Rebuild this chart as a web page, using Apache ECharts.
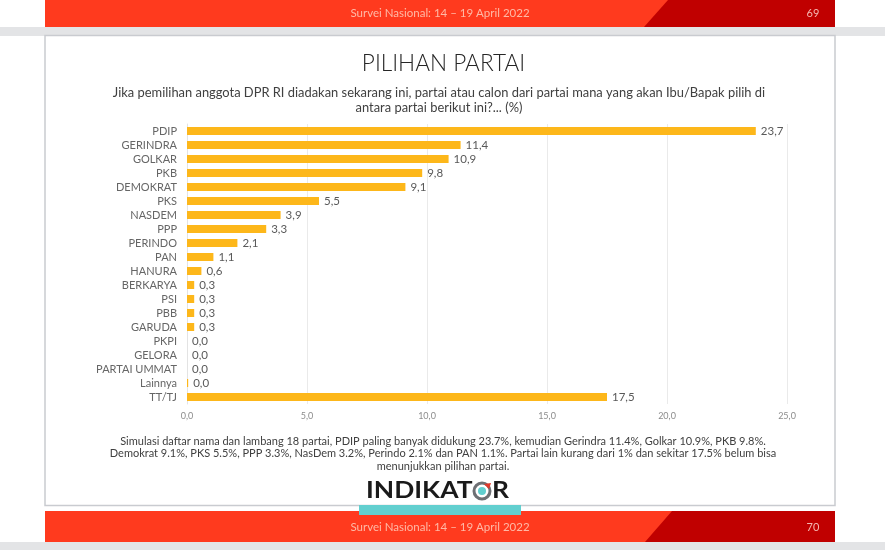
<!DOCTYPE html>
<html><head><meta charset="utf-8">
<style>html,body{margin:0;padding:0;background:#fff}#c{width:885px;height:550px}</style>
<script src="https://cdn.jsdelivr.net/npm/echarts@6/dist/echarts.min.js"></script>
</head><body><div id="c"></div>
<script>
const categories = ['PDIP','GERINDRA','GOLKAR','PKB','DEMOKRAT','PKS','NASDEM','PPP','PERINDO','PAN','HANURA','BERKARYA','PSI','PBB','GARUDA','PKPI','GELORA','PARTAI UMMAT','Lainnya','TT/TJ'];
const values = [23.7,11.4,10.9,9.8,9.1,5.5,3.9,3.3,2.1,1.1,0.6,0.3,0.3,0.3,0.3,0,0,0,0.049,17.5];
const titleText = 'PILIHAN PARTAI';
const questionLines = ['Jika pemilihan anggota DPR RI diadakan sekarang ini, partai atau calon dari partai mana yang akan Ibu/Bapak pilih di','antara partai berikut ini?... (%)'];
const noteLines = ['Simulasi daftar nama dan lambang 18 partai, PDIP paling banyak didukung 23.7%, kemudian Gerindra 11.4%, Golkar 10.9%, PKB 9.8%.','Demokrat 9.1%, PKS 5.5%, PPP 3.3%, NasDem 3.2%, Perindo 2.1% dan PAN 1.1%. Partai lain kurang dari 1% dan sekitar 17.5% belum bisa','menunjukkan pilihan partai.'];
const footerText = 'Survei Nasional: 14 – 19 April 2022';
const F = 'Lato';
const RED='#FF3A1E', DARK='#C00000', BAND='#E3E4E6';
const rect=(x,y,w,h,fill,z,stroke)=>({type:'rect',z:z===undefined?1:z,shape:{x,y,width:w,height:h},style:{fill,stroke:stroke||null,lineWidth:stroke?1.5:0}});
const poly=(pts,fill,z)=>({type:'polygon',z:z||2,shape:{points:pts},style:{fill}});
const txt=(x,y,t,size,fill,align,extra,sx)=>({type:'text',z:5,x,y,scaleX:sx||1,style:Object.assign({text:t,font:size+'px '+F,fill,textAlign:align||'center',textVerticalAlign:'middle'},extra||{})});
const graphics=[
  rect(0,27,885,9,BAND,0),
  rect(0,542,885,8,BAND,0),
  rect(45,35.5,790,470,'rgba(255,255,255,0)',1,'#C9CBD0'),
  rect(45,0,790,27,RED,2),
  poly([[668,0],[835,0],[835,27],[644,27]],DARK),
  rect(45,511,790,31,RED,2),
  poly([[672,511],[835,511],[835,542],[645,542]],DARK),
  rect(359,505,162,10,'#62CFCF',3),
  txt(440,13,footerText,11.5,'#FFB9A6'),
  txt(813,13,'69',11,'#F4B6B0'),
  txt(440,527,footerText,11.5,'#FFB9A6'),
  txt(813,527,'70',11,'#F4B6B0'),
  txt(443.5,64,titleText,22.6,'#262626','center',{font:'300 22.6px '+F},1),
  txt(439,93,questionLines[0],12.9,'#404040'),
  txt(439,108,questionLines[1],12.9,'#404040'),
  txt(443,441,noteLines[0],11,'#404040'),
  txt(443,453,noteLines[1],11,'#404040'),
  txt(443,466,noteLines[2],11,'#404040'),
  txt(366,491,'INDIKAT',22,'#1A1A1A','left',{font:'bold 22px '+F},1.2),
  txt(492,491,'R',22,'#1A1A1A','left',{font:'bold 22px '+F},1.2),
  {type:'circle',z:5,shape:{cx:482,cy:491,r:8},style:{fill:'#fff',stroke:'#6E7074',lineWidth:3}},
  {type:'circle',z:6,shape:{cx:482,cy:491,r:4},style:{fill:'#62CFCF'}},
  poly([[484,484],[491,483],[489,489]],'#E0392B',6)
];
const chart=echarts.init(document.getElementById('c'),null,{renderer:'canvas'});
chart.setOption({
  animation:false,
  textStyle:{fontFamily:F},
  grid:{left:187,right:98,top:124,height:280,containLabel:false},
  xAxis:{type:'value',min:0,max:25,interval:5,
    axisLine:{show:false},axisTick:{show:false},
    splitLine:{lineStyle:{color:'#EAEAEA',width:1}},
    axisLabel:{color:'#8C8C8C',fontSize:9,margin:8,formatter:v=>v.toFixed(1).replace('.',',')}},
  yAxis:{type:'category',inverse:true,data:categories,
    axisLine:{lineStyle:{color:'#E3E3E3'}},axisTick:{show:false},
    axisLabel:{color:'#666',fontSize:11,margin:10,interval:0}},
  series:[{type:'bar',data:values,barWidth:8,itemStyle:{color:'#FDB71A'},z:3,
    label:{show:true,position:'right',distance:5,color:'#595959',fontSize:11.5,
      formatter:p=>p.value.toFixed(1).replace('.',',')}}],
  graphic:{elements:graphics}
});
</script></body></html>
